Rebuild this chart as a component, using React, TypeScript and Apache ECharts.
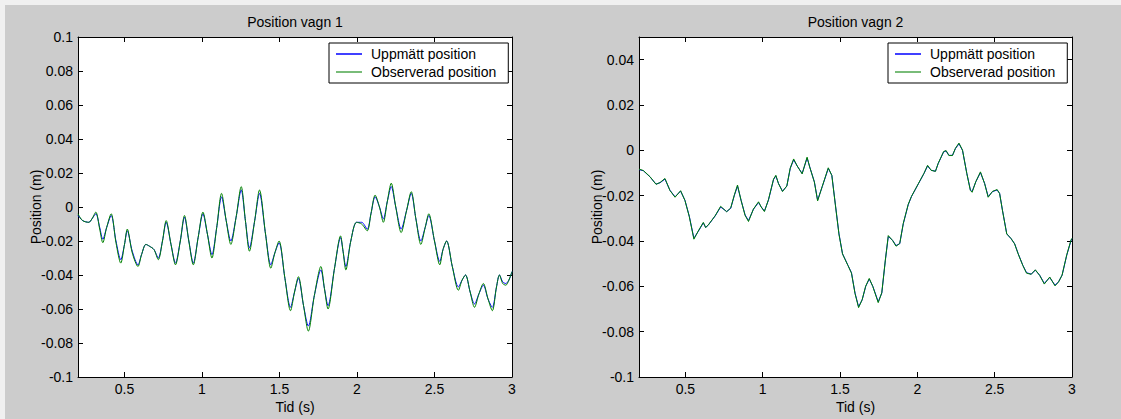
import React, { useEffect, useRef } from "react";
import * as echarts from "echarts";

// ---- Data ----
const titles = ["Position vagn 1", "Position vagn 2"];
const seriesNames = ["Uppmätt position", "Observerad position"];
const xTicks = [0.5, 1, 1.5, 2, 2.5, 3];
const yTicks1 = [-0.1, -0.08, -0.06, -0.04, -0.02, 0, 0.02, 0.04, 0.06, 0.08, 0.1];
const yTicks2 = [-0.1, -0.08, -0.06, -0.04, -0.02, 0, 0.02, 0.04];

const timeV1 = [
  0.2, 0.23, 0.27, 0.29, 0.315, 0.34, 0.36, 0.385, 0.414, 0.445, 0.476, 0.5, 0.518, 0.55, 0.587, 0.61, 0.638,
  0.66, 0.69, 0.718, 0.745, 0.769, 0.8, 0.829, 0.86, 0.887, 0.915, 0.944, 0.975, 1.006, 1.035, 1.064, 1.095,
  1.126, 1.156, 1.186, 1.22, 1.253, 1.28, 1.306, 1.34, 1.371, 1.41, 1.444, 1.47, 1.497, 1.535, 1.571, 1.597,
  1.622, 1.655, 1.686, 1.725, 1.767, 1.79, 1.813, 1.855, 1.894, 1.91, 1.928, 1.96, 1.997, 2.03, 2.066, 2.09,
  2.117, 2.145, 2.17, 2.195, 2.221, 2.25, 2.285, 2.32, 2.35, 2.38, 2.412, 2.44, 2.463, 2.5, 2.534, 2.555,
  2.578, 2.615, 2.654, 2.678, 2.7, 2.73, 2.758, 2.787, 2.815, 2.845, 2.873, 2.9, 2.919, 2.94, 2.96, 2.98, 3.0,
];
const measuredV1 = [
  -0.005, -0.008, -0.009, -0.007, -0.004, -0.012, -0.019, -0.012, -0.005, -0.02, -0.031, -0.022, -0.014, -0.026,
  -0.034, -0.028, -0.022, -0.023, -0.025, -0.03, -0.02, -0.009, -0.022, -0.033, -0.02, -0.006, -0.02, -0.033,
  -0.018, -0.004, -0.016, -0.028, -0.012, 0.006, -0.008, -0.02, -0.006, 0.01, -0.008, -0.024, -0.008, 0.008,
  -0.016, -0.034, -0.027, -0.021, -0.042, -0.059, -0.05, -0.042, -0.058, -0.07, -0.052, -0.037, -0.048, -0.058,
  -0.036, -0.018, -0.026, -0.035, -0.02, -0.009, -0.009, -0.013, -0.004, 0.006, 0.0, -0.007, 0.003, 0.012, 0.0,
  -0.013, -0.002, 0.008, -0.007, -0.02, -0.012, -0.005, -0.02, -0.032, -0.025, -0.02, -0.035, -0.047, -0.043,
  -0.04, -0.05, -0.057, -0.051, -0.046, -0.054, -0.059, -0.047, -0.04, -0.044, -0.045, -0.043, -0.038,
];
const observedV1 = [
  -0.004, -0.008, -0.009, -0.007, -0.003, -0.013, -0.021, -0.012, -0.004, -0.021, -0.033, -0.022, -0.013, -0.027,
  -0.035, -0.028, -0.022, -0.023, -0.025, -0.031, -0.02, -0.008, -0.022, -0.034, -0.02, -0.005, -0.02, -0.034,
  -0.018, -0.003, -0.016, -0.03, -0.012, 0.008, -0.008, -0.022, -0.006, 0.012, -0.008, -0.026, -0.008, 0.01,
  -0.016, -0.036, -0.027, -0.02, -0.042, -0.061, -0.05, -0.041, -0.058, -0.073, -0.052, -0.035, -0.048, -0.06,
  -0.036, -0.017, -0.026, -0.037, -0.02, -0.009, -0.01, -0.014, -0.004, 0.007, 0.0, -0.009, 0.003, 0.014, 0.0,
  -0.015, -0.002, 0.009, -0.007, -0.022, -0.012, -0.004, -0.02, -0.034, -0.025, -0.02, -0.035, -0.049, -0.043,
  -0.04, -0.05, -0.059, -0.051, -0.045, -0.054, -0.061, -0.047, -0.04, -0.045, -0.046, -0.043, -0.038,
];

const timeV2 = [
  0.2, 0.228, 0.271, 0.31, 0.336, 0.368, 0.4, 0.433, 0.469, 0.497, 0.525, 0.555, 0.583, 0.616, 0.631, 0.648,
  0.692, 0.728, 0.767, 0.793, 0.817, 0.837, 0.86, 0.886, 0.908, 0.94, 0.973, 0.99, 1.011, 1.037, 1.07, 1.085,
  1.102, 1.128, 1.156, 1.178, 1.2, 1.223, 1.255, 1.287, 1.304, 1.334, 1.355, 1.385, 1.424, 1.447, 1.47, 1.493,
  1.516, 1.551, 1.574, 1.597, 1.62, 1.643, 1.666, 1.689, 1.712, 1.747, 1.77, 1.793, 1.812, 1.84, 1.862, 1.886,
  1.909, 1.941, 1.962, 1.985, 2.008, 2.043, 2.066, 2.089, 2.117, 2.135, 2.17, 2.186, 2.204, 2.227, 2.246, 2.269,
  2.292, 2.32, 2.343, 2.354, 2.378, 2.408, 2.435, 2.458, 2.486, 2.516, 2.532, 2.55, 2.578, 2.606, 2.629, 2.652,
  2.682, 2.706, 2.736, 2.763, 2.791, 2.821, 2.856, 2.89, 2.913, 2.936, 2.966, 2.994, 3.0,
];
const measuredV2 = [
  -0.0085, -0.009, -0.0117, -0.0149, -0.0143, -0.0127, -0.0176, -0.0205, -0.018, -0.022, -0.029, -0.0388,
  -0.0358, -0.032, -0.034, -0.033, -0.029, -0.025, -0.027, -0.0256, -0.0198, -0.0158, -0.022, -0.0285, -0.031,
  -0.026, -0.023, -0.0249, -0.0268, -0.022, -0.0129, -0.0113, -0.0146, -0.018, -0.0158, -0.008, -0.0042, -0.0069,
  -0.0102, -0.0034, -0.0073, -0.0139, -0.022, -0.016, -0.008, -0.011, -0.024, -0.0368, -0.0456, -0.0507, -0.054,
  -0.063, -0.069, -0.066, -0.06, -0.0568, -0.06, -0.0668, -0.063, -0.0485, -0.038, -0.0397, -0.042, -0.0412,
  -0.0324, -0.024, -0.0204, -0.0175, -0.0146, -0.0102, -0.0069, -0.0088, -0.0092, -0.0058, -0.0007, -0.0003,
  -0.0022, -0.0022, 0.0007, 0.0029, 0.0, -0.0102, -0.0175, -0.0182, -0.0139, -0.0098, -0.0146, -0.0204, -0.0182,
  -0.0175, -0.019, -0.0263, -0.0368, -0.039, -0.0412, -0.0456, -0.0507, -0.054, -0.0546, -0.0529, -0.0551,
  -0.0587, -0.0561, -0.0595, -0.058, -0.0551, -0.0463, -0.0397, -0.039,
];
const observedV2 = [
  -0.0083, -0.0089, -0.0116, -0.015, -0.0142, -0.0124, -0.0177, -0.0207, -0.0178, -0.0221, -0.0292, -0.0392,
  -0.0356, -0.0318, -0.0341, -0.0329, -0.0289, -0.0247, -0.0271, -0.0254, -0.0196, -0.0153, -0.0221, -0.0287,
  -0.0314, -0.0259, -0.0227, -0.025, -0.027, -0.0218, -0.0127, -0.011, -0.0147, -0.0182, -0.0157, -0.0078,
  -0.0038, -0.0069, -0.0104, -0.003, -0.0074, -0.014, -0.0223, -0.0159, -0.0077, -0.0111, -0.0242, -0.037,
  -0.0457, -0.0508, -0.0542, -0.0632, -0.0694, -0.0659, -0.0599, -0.0565, -0.0601, -0.0672, -0.0628, -0.0484,
  -0.0376, -0.0398, -0.0423, -0.0411, -0.0322, -0.0238, -0.0203, -0.0174, -0.0145, -0.0101, -0.0066, -0.0088,
  -0.0093, -0.0057, -0.0005, -0.0001, -0.0023, -0.0023, 0.0009, 0.0032, 0.0001, -0.0103, -0.0177, -0.0185,
  -0.0138, -0.0095, -0.0147, -0.0207, -0.0181, -0.0173, -0.0191, -0.0264, -0.0369, -0.0389, -0.0413, -0.0457,
  -0.0508, -0.0542, -0.0547, -0.0527, -0.0552, -0.059, -0.0559, -0.0598, -0.0581, -0.055, -0.0461, -0.0395,
  -0.0388,
];

const FONT = "'Liberation Sans', Arial, Helvetica, sans-serif";
const BLUE = "#0000ff";
const GREEN = "#008000";

const pair = (ts: number[], vs: number[]) => ts.map((t, i) => [t, vs[i]]);

function buildOption() {
  const grids = [
    { left: 78, top: 37, width: 434, height: 340 },
    { left: 639, top: 37, width: 433, height: 340 },
  ];
  const yMax = [0.1, 0.05];
  const yTicks = [yTicks1, yTicks2];
  const txt = { color: "#000", fontSize: 14, fontFamily: FONT };

  const xAxis: any[] = [];
  const yAxis: any[] = [];
  [0, 1].forEach((g) => {
    ["bottom", "top"].forEach((pos) => {
      const main = pos === "bottom";
      xAxis.push({
        type: "value",
        gridIndex: g,
        position: pos,
        min: 0.2,
        max: 3,
        axisLine: { show: true, onZero: false, lineStyle: { color: "#000", width: 1 } },
        axisTick: { show: true, inside: true, length: 5, customValues: xTicks, lineStyle: { color: "#000" } },
        axisLabel: {
          show: main,
          customValues: xTicks,
          margin: 5,
          ...txt,
          formatter: (v: number) => String(v),
        },
        splitLine: { show: false },
        name: main ? "Tid (s)" : "",
        nameLocation: "middle",
        nameGap: 23,
        nameMoveOverlap: false,
        nameTextStyle: txt,
      });
    });
    ["left", "right"].forEach((pos) => {
      const main = pos === "left";
      yAxis.push({
        type: "value",
        gridIndex: g,
        position: pos,
        min: -0.1,
        max: yMax[g],
        axisLine: { show: true, onZero: false, lineStyle: { color: "#000", width: 1 } },
        axisTick: { show: true, inside: true, length: 5, customValues: yTicks[g], lineStyle: { color: "#000" } },
        axisLabel: {
          show: main,
          customValues: yTicks[g],
          margin: 5,
          ...txt,
          formatter: (v: number) => String(v),
        },
        splitLine: { show: false },
        name: main ? "Position (m)" : "",
        nameLocation: "middle",
        nameGap: 35,
        nameMoveOverlap: false,
        nameTextStyle: txt,
      });
    });
  });

  const data = [
    [pair(timeV1, measuredV1), pair(timeV1, observedV1)],
    [pair(timeV2, measuredV2), pair(timeV2, observedV2)],
  ];
  const colors = [BLUE, GREEN];
  const series: any[] = [];
  [0, 1].forEach((g) => {
    [0, 1].forEach((s) => {
      series.push({
        type: "line",
        name: seriesNames[s],
        xAxisIndex: g * 2,
        yAxisIndex: g * 2,
        data: data[g][s],
        symbol: "none",
        smooth: g === 0 ? 0.3 : false,
        lineStyle: { color: colors[s], width: 1 },
        itemStyle: { color: colors[s] },
        clip: true,
      });
    });
  });

  return {
    animation: false,
    backgroundColor: "transparent",
    title: titles.map((t, i) => ({
      text: t,
      left: i === 0 ? 295 : 855.5,
      top: 15,
      textAlign: "center",
      padding: 0,
      textStyle: { ...txt, fontWeight: "normal" },
    })),
    legend: [329, 888].map((left) => ({
      data: seriesNames.map((name, i) => ({
        name,
        icon: "rect",
        itemStyle: { color: i === 0 ? BLUE : "#4ca64c", borderWidth: 0 },
      })),
      orient: "vertical",
      left,
      top: 43,
      itemWidth: 26,
      itemHeight: 1.5,
      itemGap: 4,
      padding: [4, 12, 4, 7],
      backgroundColor: "#fff",
      borderColor: "#000",
      borderWidth: 1,
      borderRadius: 0,
      selectedMode: false,
      textStyle: { ...txt, padding: [0, 0, 0, 4] },
    })),
    grid: grids.map((g) => ({ ...g, show: true, backgroundColor: "#fff", borderWidth: 0 })),
    xAxis,
    yAxis,
    series,
  };
}

export default function App() {
  const ref = useRef<HTMLDivElement>(null);
  useEffect(() => {
    if (!ref.current) return;
    const chart = echarts.init(ref.current, undefined, { renderer: "svg" });
    chart.setOption(buildOption() as any);
    return () => chart.dispose();
  }, []);
  return (
    <div style={{ position: "fixed", left: 0, top: 0, width: 1121, height: 419, background: "#f0f0f0" }}>
      <div style={{ position: "absolute", left: 5, top: 5, width: 1116, height: 414, background: "#cccccc" }} />
      <div ref={ref} style={{ position: "absolute", left: 0, top: 0, width: 1121, height: 419 }} />
    </div>
  );
}
